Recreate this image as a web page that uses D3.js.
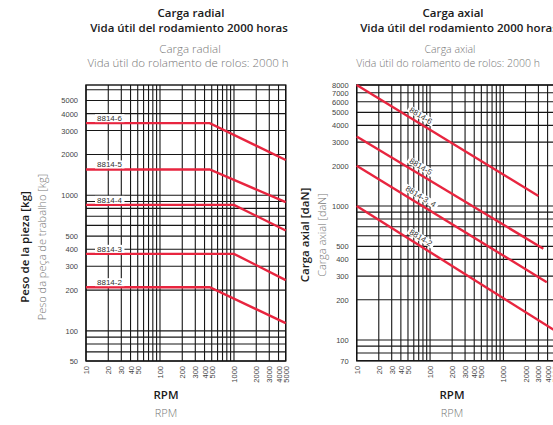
<!DOCTYPE html>
<html>
<head>
<meta charset="utf-8">
<script src="https://cdn.jsdelivr.net/npm/d3@7"></script>
<style>
  body { margin: 0; background: #fff; overflow: hidden; }
  text { font-family: "Open Sans", "Liberation Sans", sans-serif; }
</style>
</head>
<body>
<script>
const width = 553;
const height = 425;

// tick labels
const rpmTicks = [10, 20, 30, 40, 50, 100, 200, 300, 400, 500, 1000, 2000, 3000, 4000, 5000];
const radialLoadTicks = [50, 100, 200, 300, 400, 500, 1000, 2000, 3000, 4000, 5000];
const axialLoadTicks = [70, 100, 200, 300, 400, 500, 1000, 2000, 3000, 4000, 5000, 6000, 7000, 8000];

// radial load curves (rpm, kg)
const radialSeries = ["8814-6", "8814-5", "8814-4", "8814-3", "8814-2"];
const radialRpm = [[10, 470, 5000], [10, 470, 5000], [10, 1000, 5000], [10, 1000, 5000], [10, 470, 5000]];
const radialLoad = [[3400, 3400, 1820], [1550, 1550, 890], [850, 850, 550], [370, 370, 237], [210, 210, 114]];

// axial load curves (rpm, daN)
const axialSeries = ["8814-6", "8814-5", "8814-3, 4", "8814-2"];
const axialRpm = [[10, 3000], [10, 3500], [10, 3900], [10, 5000]];
const axialLoad = [[8000, 1190], [3300, 480], [2000, 270], [1000, 118]];

const red = "#e8253f";

const svg = d3.select("body").append("svg")
    .attr("width", width)
    .attr("height", height);

// grid values: every 1..9 per decade inside the domain
function logGrid(lo, hi) {
    const out = [];
    for (let e = 1; e <= 10000; e *= 10) {
        for (let m = 1; m <= 9; m++) {
            const v = m * e;
            if (v >= lo - 1e-9 && v <= hi + 1e-9) out.push(v);
        }
    }
    return out;
}

function drawPanel(cfg) {
    const g = svg.append("g");
    const x = d3.scaleLog().domain([10, 5000]).range([cfg.left, cfg.right]);
    const y = d3.scaleLog().domain(cfg.yDomain).range([cfg.bottom, cfg.top]).clamp(true);

    // grid
    g.selectAll(".vgrid")
        .data(logGrid(10, 5000))
        .enter().append("line")
        .attr("x1", d => x(d)).attr("x2", d => x(d))
        .attr("y1", cfg.top).attr("y2", cfg.bottom)
        .style("stroke", "#161616").style("stroke-width", 1.1);

    g.selectAll(".hgrid")
        .data(logGrid(cfg.yDomain[0], cfg.yDomain[1]))
        .enter().append("line")
        .attr("x1", cfg.left).attr("x2", cfg.right)
        .attr("y1", d => y(d)).attr("y2", d => y(d))
        .style("stroke", "#161616").style("stroke-width", 1.1);

    // frame
    g.append("rect")
        .attr("x", cfg.left).attr("y", cfg.top)
        .attr("width", cfg.right - cfg.left).attr("height", cfg.bottom - cfg.top)
        .style("fill", "none").style("stroke", "#111").style("stroke-width", 1.4);

    // y tick labels
    g.selectAll(".ytick")
        .data(cfg.yTicks)
        .enter().append("text")
        .attr("x", cfg.left - 8)
        .attr("y", d => y(d) + 3)
        .attr("text-anchor", "end")
        .style("font-size", "7.5px")
        .style("fill", "#444")
        .style("font-family", "'Liberation Sans', sans-serif")
        .text(d => d);

    // x tick labels (rotated)
    g.selectAll(".xtick")
        .data(rpmTicks)
        .enter().append("text")
        .attr("transform", d => `translate(${x(d) + 3},${cfg.bottom + 5}) rotate(-90)`)
        .attr("text-anchor", "end")
        .style("font-size", "7.5px")
        .style("fill", "#444")
        .style("font-family", "'Liberation Sans', sans-serif")
        .text(d => d);

    // curves
    const line = d3.line().x(d => x(d[0])).y(d => y(d[1]));
    cfg.series.forEach((name, i) => {
        const pts = cfg.rpm[i].map((r, j) => [r, cfg.load[i][j]]);
        g.append("path")
            .attr("d", line(pts))
            .style("fill", "none")
            .style("stroke", red)
            .style("stroke-width", 2.4);
    });

    // curve labels
    cfg.series.forEach((name, i) => {
        const lg = g.append("g");
        if (cfg.flatLabels) {
            const ly = y(cfg.load[i][0]) - 5;
            const t = lg.append("text")
                .attr("x", cfg.left + 11)
                .attr("y", ly + 3)
                .style("font-size", "8px")
                .style("fill", "#333")
                .style("font-family", "'Liberation Sans', sans-serif")
                .text(name);
            const bb = t.node().getBBox();
            lg.insert("rect", "text")
                .attr("x", bb.x - 2).attr("y", bb.y).attr("width", bb.width + 4).attr("height", bb.height - 1)
                .style("fill", "#fff");
        } else {
            const r0 = cfg.rpm[i][0], r1 = cfg.rpm[i][1];
            const l0 = cfg.load[i][0], l1 = cfg.load[i][1];
            const p0 = [x(r0), y(l0)], p1 = [x(r1), y(l1)];
            const ang = Math.atan2(p1[1] - p0[1], p1[0] - p0[0]);
            const cx = cfg.labelX;
            const cy = p0[1] + (cx - p0[0]) * Math.tan(ang);
            const t = lg.append("text")
                .attr("x", 0).attr("y", -4.5)
                .attr("text-anchor", "middle")
                .style("font-size", "8px")
                .style("fill", "#333")
                .style("font-family", "'Liberation Sans', sans-serif")
                .text(name);
            const bb = t.node().getBBox();
            lg.insert("rect", "text")
                .attr("x", bb.x - 2).attr("y", bb.y + 0.5).attr("width", bb.width + 4).attr("height", bb.height - 1.5)
                .style("fill", "#fff");
            lg.attr("transform", `translate(${cx},${cy}) rotate(${ang * 180 / Math.PI})`);
        }
    });

    // titles
    const titles = [
        [cfg.title1, 17, "bold", cfg.titleX[0], "11.5px"],
        [cfg.title2, 32, "bold", cfg.titleX[1], "11.5px"],
        [cfg.sub1, 53, "light", cfg.titleX[2], cfg.subSize],
        [cfg.sub2, 67, "light", cfg.titleX[3], cfg.subSize]
    ];
    titles.forEach(([txt, ty, kind, tx, fs]) => {
        g.append("text")
            .attr("x", tx).attr("y", ty)
            .attr("text-anchor", "middle")
            .style("font-size", fs)
            .style("font-weight", kind === "bold" ? 600 : 300)
            .style("fill", kind === "bold" ? "#1a1a1a" : "#777")
            .text(txt);
    });

    // y axis titles
    g.append("text")
        .attr("transform", `translate(${cfg.yTitleX},${cfg.yTitleY}) rotate(-90)`)
        .attr("text-anchor", "middle")
        .style("font-size", "11.5px").style("font-weight", 600).style("fill", "#1a1a1a")
        .text(cfg.yTitle);
    g.append("text")
        .attr("transform", `translate(${cfg.yTitleX + 17},${cfg.yTitleY}) rotate(-90)`)
        .attr("text-anchor", "middle")
        .style("font-size", "11px").style("font-weight", 300).style("fill", "#777")
        .text(cfg.ySub);

    // x axis titles
    g.append("text")
        .attr("x", cfg.xTitleX).attr("y", 399)
        .attr("text-anchor", "middle")
        .style("font-size", "11.5px").style("font-weight", 600).style("fill", "#1a1a1a")
        .text("RPM");
    g.append("text")
        .attr("x", cfg.xTitleX).attr("y", 417)
        .attr("text-anchor", "middle")
        .style("font-size", "11px").style("font-weight", 300).style("fill", "#777")
        .text("RPM");
}

drawPanel({
    left: 86, right: 285.7, top: 85, bottom: 361,
    yDomain: [60, 6500],
    yTicks: radialLoadTicks,
    series: radialSeries, rpm: radialRpm, load: radialLoad,
    flatLabels: true,
    title1: "Carga radial", title2: "Vida útil del rodamiento 2000 horas",
    sub1: "Carga radial", sub2: "Vida útil do rolamento de rolos: 2000 h",
    titleX: [191, 189, 190, 188], subSize: "11.5px",
    yTitle: "Peso de la pieza [kg]", ySub: "Peso da peça de trabalho [kg]",
    yTitleX: 29, yTitleY: 247,
    xTitleX: 166
});

drawPanel({
    left: 356.7, right: 554.7, top: 85, bottom: 360.8,
    yDomain: [70, 8000],
    yTicks: axialLoadTicks,
    series: axialSeries, rpm: axialRpm, load: axialLoad,
    flatLabels: false, labelX: 417,
    title1: "Carga axial", title2: "Vida útil del rodamiento 2000 horas",
    sub1: "Carga axial", sub2: "Vida útil do rolamento de rolos: 2000 h",
    titleX: [453, 459, 450, 448], subSize: "10.5px",
    yTitle: "Carga axial [daN]", ySub: "Carga axial [daN]",
    yTitleX: 309, yTitleY: 235,
    xTitleX: 452
});
</script>
</body>
</html>
